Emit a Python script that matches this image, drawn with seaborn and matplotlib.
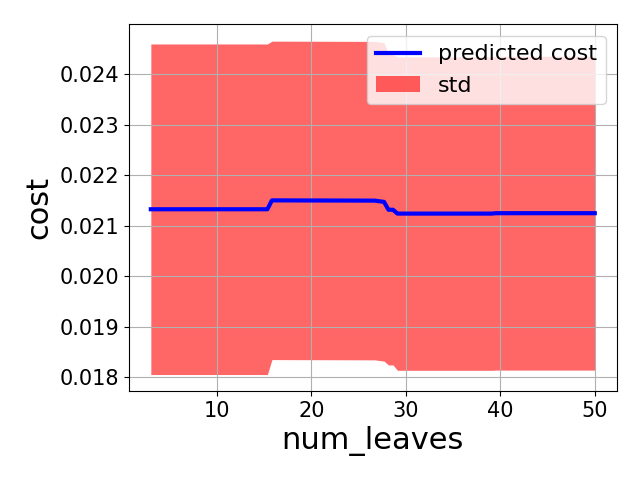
import numpy as np
import pandas as pd
import matplotlib
matplotlib.use('Agg')
import matplotlib.pyplot as plt
import seaborn as sns
from matplotlib.patches import Patch

# values
num_leaves = [3.0, 15.34, 15.82, 26.7, 27.69, 28.16, 28.64, 29.11, 39.09, 39.56, 50.0]
pred_cost = [0.021324, 0.021324, 0.021500, 0.021495, 0.021470, 0.021314,
             0.021314, 0.021238, 0.021238, 0.021246, 0.021246]
pred_std = [0.003276, 0.003276, 0.003156, 0.003156, 0.003156, 0.003076,
            0.003076, 0.003106, 0.003106, 0.003110, 0.003110]

df = pd.DataFrame({'num_leaves': num_leaves, 'cost': pred_cost, 'std': pred_std})
lower = df['cost'] - df['std']
upper = df['cost'] + df['std']

fig, ax = plt.subplots(figsize=[6.4, 4.8], dpi=100)
sns.lineplot(data=df, x='num_leaves', y='cost', color='b', linewidth=3, ax=ax,
             label='predicted cost', legend=False)
ax.fill_between(df['num_leaves'], lower, upper, color='red', alpha=0.6,
                linewidth=0, label='std')
ax.grid(True)

handles = [ax.lines[0], Patch(facecolor='red', alpha=0.6, label='std')]
ax.legend(handles=handles, labels=['predicted cost', 'std'], loc='upper right', fontsize=16)

ax.set_xlabel('num_leaves', fontsize=22)
ax.set_ylabel('cost', fontsize=22)
ax.tick_params(labelsize=15)

plt.subplots_adjust(left=0.201, right=0.964, bottom=0.185, top=0.949)
plt.savefig('out.png')
